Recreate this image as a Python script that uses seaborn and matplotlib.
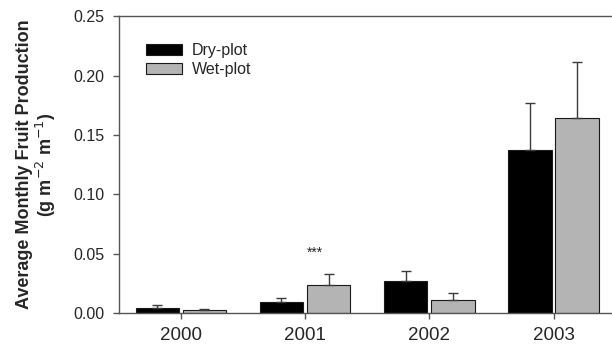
import pandas as pd
import numpy as np
import matplotlib
matplotlib.use("Agg")
import matplotlib.pyplot as plt
import seaborn as sns

# values
years = ["2000", "2001", "2002", "2003"]
plots = ["Dry-plot", "Wet-plot"]
dry_mean = [0.0045, 0.0090, 0.0270, 0.1370]
wet_mean = [0.0025, 0.0240, 0.0110, 0.1640]
dry_err = [0.0022, 0.0036, 0.0085, 0.0395]
wet_err = [0.0007, 0.0092, 0.0055, 0.0470]

df = pd.DataFrame({
    "year": years * 2,
    "plot": [plots[0]] * 4 + [plots[1]] * 4,
    "value": dry_mean + wet_mean,
    "err": dry_err + wet_err,
})

sns.set_style("ticks")
plt.rcParams["font.family"] = ["Liberation Sans", "DejaVu Sans"]

fig = plt.figure(figsize=(6.12, 3.44), dpi=100)
ax = fig.add_axes([0.194, 0.090, 0.812, 0.863])

sns.barplot(data=df, x="year", y="value", hue="plot", order=years, hue_order=plots,
            palette=["#000000", "#b4b4b4"], errorbar=None, width=0.76, gap=0.08,
            edgecolor="#1a1a1a", linewidth=0.8, ax=ax)

# upper-only error bars, positioned on the drawn bars
for container, p in zip(ax.containers, plots):
    sub = df[df["plot"] == p]
    xs = [b.get_x() + b.get_width() / 2 for b in container]
    errs = sub["err"].values
    ax.errorbar(xs, sub["value"].values, yerr=[np.zeros_like(errs), errs],
                fmt="none", ecolor="#3a3a3a", elinewidth=1.0, capsize=3.5, capthick=1.0)

ax.text(1.08, 0.051, "***", ha="center", va="center", fontsize=10)

ax.set_ylim(0, 0.25)
ax.set_xlim(-0.5, 3.5)
ax.set_yticks([0.0, 0.05, 0.10, 0.15, 0.20, 0.25])
ax.set_yticklabels(["0.00", "0.05", "0.10", "0.15", "0.20", "0.25"])
ax.set_xlabel("")
ax.set_ylabel("Average Monthly Fruit Production\n(g m$^{-2}$ m$^{-1}$)",
              fontsize=13, fontweight="bold", labelpad=11, linespacing=1.1)
ax.tick_params(axis="y", labelsize=11.5, length=4, color="#555555", width=1, pad=6)
ax.tick_params(axis="x", labelsize=13.5, length=4, color="#555555", width=1, pad=6)
for s in ["top", "right", "left", "bottom"]:
    ax.spines[s].set_visible(True)
    ax.spines[s].set_color("#555555")
    ax.spines[s].set_linewidth(1.0)

leg = ax.legend(loc="upper left", frameon=False, fontsize=11.5, handlelength=2.3,
                handleheight=0.7, labelspacing=0.25, handletextpad=0.6,
                bbox_to_anchor=(0.054, 0.91), borderaxespad=0, borderpad=0)

fig.savefig("out.png", dpi=100)
